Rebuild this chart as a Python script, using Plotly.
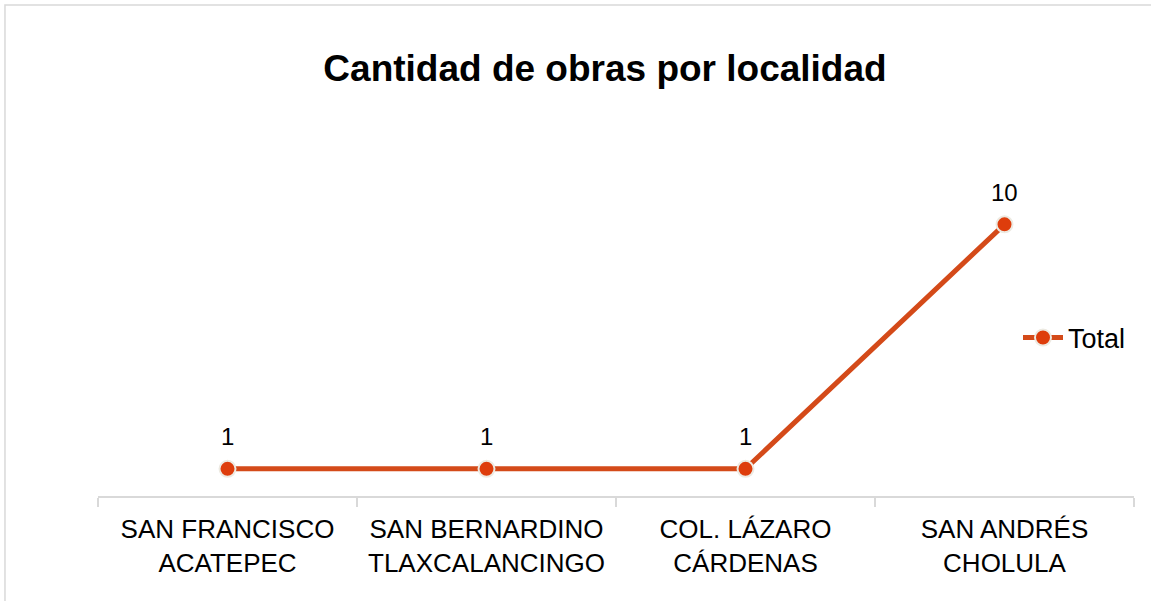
import plotly.graph_objects as go

# Data
localidades = [
    "SAN FRANCISCO<br>ACATEPEC",
    "SAN BERNARDINO<br>TLAXCALANCINGO",
    "COL. LÁZARO<br>CÁRDENAS",
    "SAN ANDRÉS<br>CHOLULA",
]
total_obras = [1, 1, 1, 10]

LINE_COLOR = "#D44A19"
MARKER_COLOR = "#DE3D0C"
GRID_GRAY = "#D9D9D9"
FONT = "Liberation Sans, Arial, sans-serif"

fig = go.Figure()

fig.add_trace(
    go.Scatter(
        x=localidades,
        y=total_obras,
        name="Total",
        mode="lines+markers",
        line=dict(color=LINE_COLOR, width=5),
        marker=dict(size=16, color=MARKER_COLOR, line=dict(color="#EDEAE2", width=2)),
        hoverinfo="skip",
    )
)

# Data labels above each point
for loc, v in zip(localidades, total_obras):
    fig.add_annotation(
        x=loc, y=v, text=str(v),
        showarrow=False, yshift=32,
        font=dict(family=FONT, size=24, color="#000000"),
    )

# Outer chart border
fig.add_shape(
    type="rect", xref="paper", yref="paper",
    x0=-0.0898, x1=1.02, y0=-0.34, y1=1.506,
    line=dict(color=GRID_GRAY, width=1.5),
    layer="below",
)

fig.update_layout(
    width=1151,
    height=601,
    margin=dict(l=98, r=17, t=170, b=105),
    paper_bgcolor="white",
    plot_bgcolor="white",
    font=dict(family=FONT, size=26, color="#000000"),
    title=dict(
        text="<b>Cantidad de obras por localidad</b>",
        x=605 / 1151, xanchor="center",
        y=1 - 68 / 601, yanchor="middle",
        font=dict(family=FONT, size=37, color="#000000"),
    ),
    showlegend=True,
    legend=dict(
        x=(1018 - 98) / 1036, xanchor="left",
        y=(496 - 338) / 326, yanchor="middle",
        bgcolor="rgba(0,0,0,0)",
        font=dict(family=FONT, size=27),
        itemwidth=40,
    ),
    xaxis=dict(
        type="category",
        range=[-0.5, 3.5],
        tickson="boundaries",
        ticks="outside",
        ticklen=9,
        tickwidth=1.5,
        tickcolor=GRID_GRAY,
        ticklabelstandoff=9,
        showline=True,
        linecolor=GRID_GRAY,
        linewidth=1.5,
        showgrid=False,
        zeroline=False,
        tickfont=dict(family=FONT, size=26),
        fixedrange=True,
    ),
    yaxis=dict(
        range=[0, 12],
        visible=False,
        showgrid=False,
        zeroline=False,
        fixedrange=True,
    ),
)

fig.write_html(
    "out.html",
    config={"displayModeBar": False},
    post_script="document.body.style.margin='0px';",
)
